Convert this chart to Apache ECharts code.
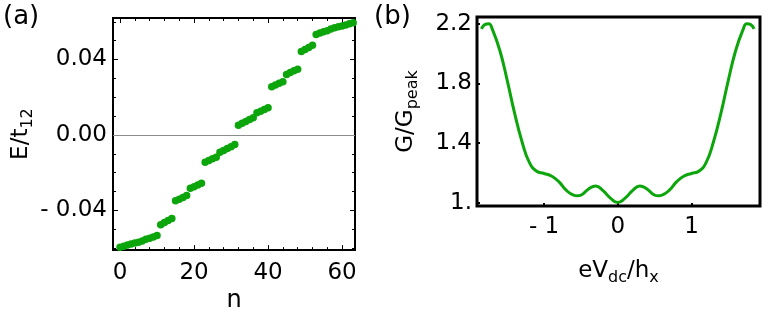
<!DOCTYPE html>
<html>
<head>
<meta charset="utf-8">
<script src="https://cdn.jsdelivr.net/npm/echarts@6/dist/echarts.min.js"></script>
<style>
  html, body { margin: 0; padding: 0; background: #fff; }
  #chart { width: 768px; height: 318px; }
</style>
</head>
<body>
<div id="chart"></div>
<script>
// (a) 能级 E/t12 随 n
var levelIndex = [0, 1, 2, 3, 4, 5, 6, 7, 8, 9, 10, 11, 12, 13, 14, 15, 16, 17, 18, 19, 20, 21, 22, 23, 24, 25, 26, 27, 28, 29, 30, 31,
    32, 33, 34, 35, 36, 37, 38, 39, 40, 41, 42, 43, 44, 45, 46, 47, 48, 49, 50, 51, 52, 53, 54, 55, 56, 57, 58, 59, 60, 61, 62, 63];
var levelEnergy = [-0.0595, -0.0589, -0.0583, -0.0578, -0.0573, -0.0568, -0.0562, -0.0553, -0.0547, -0.0541, -0.0533,
    -0.0475, -0.0464, -0.0453, -0.0442, -0.0349, -0.0340, -0.0331, -0.0321, -0.0282, -0.0274, -0.0265, -0.0256,
    -0.0144, -0.0135, -0.0126, -0.0118, -0.0092, -0.0082, -0.0072, -0.0062, -0.0051,
    0.0051, 0.0062, 0.0072, 0.0082, 0.0092, 0.0118, 0.0126, 0.0135, 0.0144,
    0.0256, 0.0265, 0.0274, 0.0282, 0.0321, 0.0331, 0.0340, 0.0349, 0.0442, 0.0453, 0.0464, 0.0475,
    0.0533, 0.0541, 0.0547, 0.0553, 0.0562, 0.0568, 0.0573, 0.0578, 0.0583, 0.0589, 0.0595];
var nTicks = [0, 20, 40, 60];
var nMinorTicks = [4, 8, 12, 16, 24, 28, 32, 36, 44, 48, 52, 56];
var eTicks = [-0.04, 0, 0.04];
var eMinorTicks = [-0.06, -0.05, -0.03, -0.02, -0.01, 0.01, 0.02, 0.03, 0.05, 0.06];

// (b) 电导 G/Gpeak 随 eVdc/hx
var biasVoltage = [-1.85, -1.8, -1.75, -1.7, -1.6, -1.5, -1.4, -1.3, -1.2, -1.1, -1.0, -0.9, -0.8, -0.7, -0.6, -0.55, -0.5,
    -0.4, -0.3, -0.2, -0.1, 0, 0.1, 0.2, 0.3, 0.4, 0.5, 0.55, 0.6, 0.7, 0.8, 0.9, 1.0, 1.1, 1.2, 1.3, 1.4, 1.5, 1.6, 1.7, 1.75, 1.8, 1.85];
var conductance = [2.165, 2.195, 2.20, 2.16, 2.02, 1.82, 1.60, 1.41, 1.27, 1.21, 1.195, 1.178, 1.14, 1.083, 1.05, 1.046, 1.05,
    1.09, 1.112, 1.08, 1.03, 1.0, 1.03, 1.08, 1.112, 1.09, 1.05, 1.046, 1.05, 1.083, 1.14, 1.178, 1.195, 1.21, 1.27, 1.41, 1.60, 1.82, 2.02, 2.16, 2.20, 2.195, 2.165];
var vTicks = [-1, 0, 1];
var gTicks = [1, 1.4, 1.8, 2.2];

var green = '#0ca60c';
var font = 'DejaVu Sans';
var labelSize = 23;

var chart = echarts.init(document.getElementById('chart'));

var nRange = { min: -1.9, max: 63.5 };
var eRange = { min: -0.061, max: 0.062 };
var vRange = { min: -1.91, max: 1.93 };
var gRange = { min: 0.977, max: 2.245 };

function tickAxis(extra) {
    var base = {
        type: 'value',
        gridIndex: 0,
        axisLine: { show: false, onZero: false },
        splitLine: { show: false },
        axisLabel: { show: false },
        axisTick: { show: true, inside: true, length: 5, lineStyle: { color: '#000', width: 1 } }
    };
    return Object.assign(base, extra);
}

function eFormat(v) {
    if (Math.abs(v) < 1e-9) return '0.00';
    return v < 0 ? '- ' + Math.abs(v).toFixed(2) : v.toFixed(2);
}

var subRich = {
    a: { fontFamily: font, fontSize: 23, lineHeight: 30, color: '#000', verticalAlign: 'middle' },
    s: { fontFamily: font, fontSize: 16, lineHeight: 17, color: '#000', verticalAlign: 'bottom' }
};

var option = {
    animation: false,
    backgroundColor: '#fff',
    textStyle: { fontFamily: font },
    grid: [
        { left: 113, top: 18, width: 242, height: 240, show: true, borderColor: '#000', borderWidth: 2, containLabel: false },
        { left: 477, top: 17, width: 283, height: 189, show: true, borderColor: '#000', borderWidth: 3, containLabel: false }
    ],
    xAxis: [
        tickAxis(Object.assign({
            position: 'bottom',
            name: 'n', nameLocation: 'middle', nameGap: 32,
            nameTextStyle: { fontFamily: font, fontSize: 24, color: '#000' },
            axisLabel: { show: true, customValues: nTicks, margin: 11, fontFamily: font, fontSize: labelSize, color: '#000' },
            axisTick: { show: true, inside: true, length: 5, customValues: nTicks, lineStyle: { color: '#000' } }
        }, nRange)),
        tickAxis(Object.assign({ position: 'bottom',
            axisTick: { show: true, inside: true, length: 3, customValues: nMinorTicks, lineStyle: { color: '#000' } } }, nRange)),
        tickAxis(Object.assign({ position: 'top',
            axisTick: { show: true, inside: true, length: 5, customValues: nTicks, lineStyle: { color: '#000' } } }, nRange)),
        tickAxis(Object.assign({ position: 'top',
            axisTick: { show: true, inside: true, length: 3, customValues: nMinorTicks, lineStyle: { color: '#000' } } }, nRange)),
        Object.assign({
            type: 'value', gridIndex: 1, position: 'bottom',
            name: '{a|eV}{s|dc}{a|/h}{s|x}', nameLocation: 'middle', nameGap: 50,
            nameTextStyle: { rich: subRich },
            axisLine: { show: false, onZero: false },
            splitLine: { show: false },
            axisLabel: {
                customValues: vTicks, margin: 10, fontFamily: font, fontSize: labelSize, color: '#000',
                formatter: function (v) { return v < 0 ? '- ' + Math.abs(v) : String(v); }
            },
            axisTick: { show: true, inside: true, length: 3, customValues: vTicks, lineStyle: { color: '#000', width: 2 } }
        }, vRange)
    ],
    yAxis: [
        tickAxis(Object.assign({
            position: 'left',
            name: '{a|E/t}{s|12}', nameLocation: 'middle', nameGap: 73, nameRotate: 90,
            nameTextStyle: { rich: subRich },
            axisLabel: { show: true, customValues: eTicks, margin: 6, fontFamily: font, fontSize: labelSize, color: '#000', formatter: eFormat },
            axisTick: { show: true, inside: true, length: 5, customValues: eTicks, lineStyle: { color: '#000' } }
        }, eRange)),
        tickAxis(Object.assign({ position: 'left',
            axisTick: { show: true, inside: true, length: 3, customValues: eMinorTicks, lineStyle: { color: '#000' } } }, eRange)),
        tickAxis(Object.assign({ position: 'right',
            axisTick: { show: true, inside: true, length: 5, customValues: eTicks, lineStyle: { color: '#000' } } }, eRange)),
        tickAxis(Object.assign({ position: 'right',
            axisTick: { show: true, inside: true, length: 3, customValues: eMinorTicks, lineStyle: { color: '#000' } } }, eRange)),
        Object.assign({
            type: 'value', gridIndex: 1, position: 'left',
            name: '{a|G/G}{s|peak}', nameLocation: 'middle', nameGap: 56, nameRotate: 90,
            nameTextStyle: { rich: subRich },
            axisLine: { show: false, onZero: false },
            splitLine: { show: false },
            axisLabel: {
                customValues: gTicks, margin: 5, fontFamily: font, fontSize: labelSize, color: '#000',
                formatter: function (v) { return v === 1 ? '1.' : v.toFixed(1); }
            },
            axisTick: { show: true, inside: true, length: 3, customValues: gTicks, lineStyle: { color: '#000', width: 2 } }
        }, gRange)
    ],
    series: [
        {
            type: 'scatter',
            xAxisIndex: 0,
            yAxisIndex: 0,
            symbol: 'circle',
            symbolSize: 7.5,
            itemStyle: { color: green, opacity: 1 },
            data: levelIndex.map(function (n, i) { return [n, levelEnergy[i]]; }),
            markLine: {
                silent: true,
                symbol: 'none',
                label: { show: false },
                lineStyle: { color: '#8c8c8c', width: 1, type: 'solid' },
                data: [{ yAxis: 0 }]
            },
            z: 3
        },
        {
            type: 'line',
            xAxisIndex: 4,
            yAxisIndex: 4,
            smooth: true,
            showSymbol: false,
            lineStyle: { color: green, width: 3 },
            data: biasVoltage.map(function (v, i) { return [v, conductance[i]]; })
        }
    ],
    graphic: [
        { type: 'text', left: 3, top: 4, style: { text: '(a)', fontFamily: font, fontSize: 26, fill: '#000' } },
        { type: 'text', left: 374, top: 4, style: { text: '(b)', fontFamily: font, fontSize: 26, fill: '#000' } }
    ]
};

chart.setOption(option);
</script>
</body>
</html>
